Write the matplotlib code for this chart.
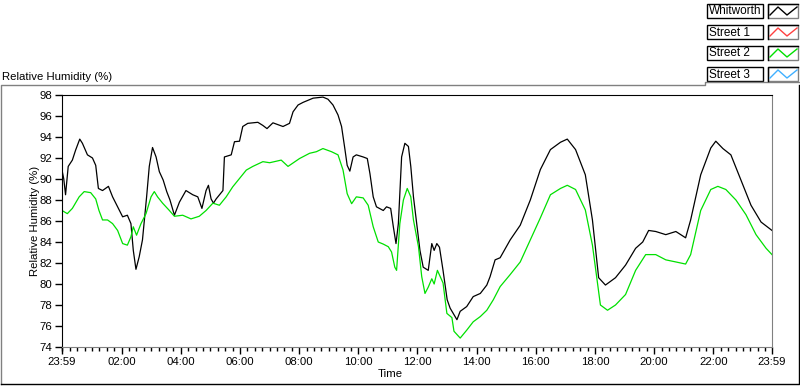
import numpy as np
import matplotlib.pyplot as plt
from matplotlib.lines import Line2D
from matplotlib.patches import Rectangle

# hours after 23:59 and relative humidity (%)
whitworth_h = [0.00, 0.06, 0.12, 0.21, 0.35, 0.46, 0.60, 0.69, 0.86, 1.03, 1.14, 1.23, 1.37, 1.57,
               1.71, 1.88, 2.05, 2.21, 2.33, 2.41, 2.50, 2.61, 2.72, 2.86, 2.95, 3.06, 3.18, 3.29,
               3.42, 3.54, 3.65, 3.80, 3.97, 4.19, 4.42, 4.59, 4.73, 4.87, 4.95, 5.04, 5.12, 5.21,
               5.44, 5.49, 5.72, 5.83, 6.00, 6.11, 6.28, 6.62, 6.79, 6.93, 7.13, 7.47, 7.69, 7.81,
               7.98, 8.15, 8.49, 8.82, 8.99, 9.16, 9.33, 9.45, 9.56, 9.64, 9.73, 9.84, 9.95, 10.18,
               10.32, 10.41, 10.52, 10.63, 10.86, 10.97, 11.11, 11.20, 11.29, 11.37, 11.48, 11.59,
               11.71, 11.79, 11.88, 11.99, 12.10, 12.21, 12.38, 12.50, 12.58, 12.67, 12.76, 12.88,
               13.02, 13.12, 13.35, 13.46, 13.68, 13.90, 14.14, 14.36, 14.47, 14.64, 14.81, 15.15,
               15.49, 15.83, 16.17, 16.51, 16.85, 17.08, 17.36, 17.69, 17.93, 18.14, 18.37, 18.71,
               19.05, 19.39, 19.63, 19.83, 20.07, 20.41, 20.75, 21.08, 21.25, 21.59, 21.93, 22.10,
               22.34, 22.61, 22.95, 23.29, 23.63, 24.00]
whitworth = [90.85, 90.0, 88.5, 91.2, 91.8, 92.75, 93.8, 93.4, 92.3, 92.0, 91.3, 89.1, 88.9, 89.3,
             88.3, 87.35, 86.4, 86.55, 85.75, 83.2, 81.4, 82.6, 84.2, 88.3, 91.2, 93.0, 92.1, 90.7,
             89.9, 88.8, 88.0, 86.55, 87.8, 88.9, 88.5, 88.3, 87.2, 88.9, 89.4, 88.1, 87.7, 88.1,
             88.9, 92.1, 92.3, 93.55, 93.6, 95.0, 95.3, 95.4, 95.1, 94.8, 95.35, 95.0, 95.3, 96.4,
             97.05, 97.3, 97.7, 97.8, 97.6, 97.05, 96.1, 95.0, 92.9, 91.3, 90.75, 92.1, 92.3, 92.1,
             91.95, 90.5, 88.3, 87.35, 87.0, 87.35, 87.2, 85.45, 83.85, 85.75, 92.1, 93.4,
             93.1, 91.2, 88.3, 85.75, 83.2, 81.6, 81.3, 83.85, 83.2, 83.85, 83.5, 81.3,
             78.5, 77.7, 76.6, 77.4, 77.85, 78.8, 79.1, 79.9, 80.7, 82.3, 82.5, 84.2,
             85.6, 88.0, 90.9, 92.8, 93.5, 93.8, 92.8, 90.4, 86.1, 80.6, 79.9, 80.6,
             81.8, 83.4, 84.0, 85.1, 85.0, 84.7, 85.0, 84.4, 86.1, 90.4, 92.95, 93.6,
             92.9, 92.3, 89.9, 87.5, 85.9, 85.1]

street2_h = [0.00, 0.18, 0.35, 0.58, 0.75, 0.97, 1.14, 1.25, 1.37, 1.54, 1.71, 1.88, 2.05, 2.21,
             2.33, 2.41, 2.52, 2.67, 2.84, 3.01, 3.12, 3.23, 3.40, 3.63, 3.80, 4.08, 4.36, 4.64,
             4.87, 5.10, 5.32, 5.55, 5.77, 6.00, 6.23, 6.45, 6.79, 7.02, 7.41, 7.64, 8.03, 8.37,
             8.60, 8.82, 9.11, 9.33, 9.50, 9.64, 9.79, 9.95, 10.18, 10.35, 10.52, 10.69, 10.86,
             11.03, 11.14, 11.25, 11.31, 11.42, 11.54, 11.67, 11.79, 11.88, 12.05, 12.16, 12.27,
             12.38, 12.50, 12.58, 12.69, 12.88, 13.01, 13.18, 13.25, 13.46, 13.68, 13.90, 14.14,
             14.36, 14.58, 14.81, 15.15, 15.49, 15.83, 16.17, 16.51, 16.85, 17.08, 17.36, 17.69,
             17.93, 18.20, 18.44, 18.71, 19.05, 19.39, 19.73, 20.07, 20.41, 20.75, 21.08, 21.25,
             21.59, 21.93, 22.17, 22.44, 22.78, 23.12, 23.46, 23.80, 24.00]
street2 = [87.0, 86.7, 87.2, 88.3, 88.8, 88.7, 88.1, 87.0, 86.1, 86.1, 85.75, 85.1, 83.85, 83.7,
           84.5, 85.45, 84.65, 85.75, 86.7, 88.3, 88.8, 88.3, 87.7, 87.0, 86.45, 86.55, 86.2, 86.45,
           87.0, 87.7, 87.5, 88.3, 89.25, 90.05, 90.85, 91.2, 91.65, 91.55, 91.8, 91.2, 91.95, 92.45,
           92.6, 92.9, 92.6, 92.3, 90.85, 88.6, 87.65, 88.3, 88.2, 87.5, 85.45, 84.0, 83.8,
           83.55, 83.05, 81.6, 81.3, 85.75, 88.0, 89.1, 88.3, 86.1, 83.55, 80.7, 79.1,
           79.7, 80.5, 80.0, 81.3, 80.1, 77.2, 76.8, 75.5, 74.85, 75.6, 76.4, 76.9,
           77.5, 78.5, 79.75, 80.9, 82.1, 84.2, 86.3, 88.5, 89.1, 89.4, 89.0, 87.05,
           83.7, 78.0, 77.5, 78.0, 79.0, 81.3, 82.8, 82.8, 82.3, 82.1, 81.9, 82.8,
           87.0, 89.0, 89.3, 89.0, 88.0, 86.6, 84.7, 83.4, 82.8]

tick_labels = ["23:59", "02:00", "04:00", "06:00", "08:00", "10:00", "12:00",
               "14:00", "16:00", "18:00", "20:00", "22:00", "23:59"]
legend_names = ["Whitworth", "Street 1", "Street 2", "Street 3"]
legend_colors = ["black", "#ff4040", "#00e000", "#40b0ff"]

W, H = 800, 386
FONT = "Liberation Sans"
FS = 8.2

fig = plt.figure(figsize=(W / 100, H / 100), dpi=100)
ax = fig.add_axes([62 / W, 1 - 347 / H, 710 / W, 252 / H])

ax.plot(whitworth_h, whitworth, color="black", lw=0.9)
ax.plot(street2_h, street2, color="#00e000", lw=0.9)

ax.set_xlim(0, 24)
ax.set_ylim(74, 98)
major = [0] + [2 * k + 1 / 60 for k in range(1, 12)] + [24]
ax.set_xticks(major)
ax.set_xticklabels(tick_labels, fontsize=FS, family=FONT)
ax.set_xticks([k * 0.25 + 1 / 60 for k in range(96)], minor=True)
ax.set_yticks(np.arange(74, 99, 2))
ax.set_yticklabels([str(v) for v in range(74, 99, 2)], fontsize=FS, family=FONT)
ax.tick_params(axis="both", which="major", length=5, width=1, direction="out", pad=2)
ax.tick_params(axis="x", which="minor", length=3, width=1, direction="out")

for side in ("left", "top"):
    ax.spines[side].set_color("black")
for side in ("right", "bottom"):
    ax.spines[side].set_color("#808080")

ax.set_xlabel("Time", fontsize=FS, family=FONT)
ax.set_ylabel("Relative Humidity (%)", fontsize=FS, family=FONT)
ax.xaxis.set_label_coords(0.463, -0.088)
ax.yaxis.set_label_coords(-0.031, 0.5)


def px_line(xs, ys, color):
    fig.add_artist(Line2D([x / W for x in xs], [1 - y / H for y in ys],
                          transform=fig.transFigure, color=color, lw=1))


def px_rect(x, y, w, h, edge, face="white"):
    fig.add_artist(Rectangle((x / W, 1 - (y + h) / H), w / W, h / H,
                             transform=fig.transFigure, edgecolor=edge,
                             facecolor=face, lw=1))


# panel frame
px_line([1, 1, 705, 705, 800], [384, 85, 85, 82, 82], "#808080")
px_line([1, 799, 799], [384, 384, 85], "black")

fig.text(2 / W, 1 - 77 / H, "Relative Humidity (%)", fontsize=FS, family=FONT, va="center")

# legend
for i, (name, col) in enumerate(zip(legend_names, legend_colors)):
    top = 4 + i * 21
    px_rect(707, top, 56, 14, "black")
    px_rect(768, top, 30, 14, "#808080")
    px_line([768, 768, 798], [top + 14, top, top], "black")
    fig.text(709 / W, 1 - (top + 7.5) / H, name, fontsize=8.5, family=FONT, va="center")
    px_line([770, 778, 787, 797], [top + 11, top + 3, top + 11, top + 3], col)

fig.savefig("out.png", dpi=100)
